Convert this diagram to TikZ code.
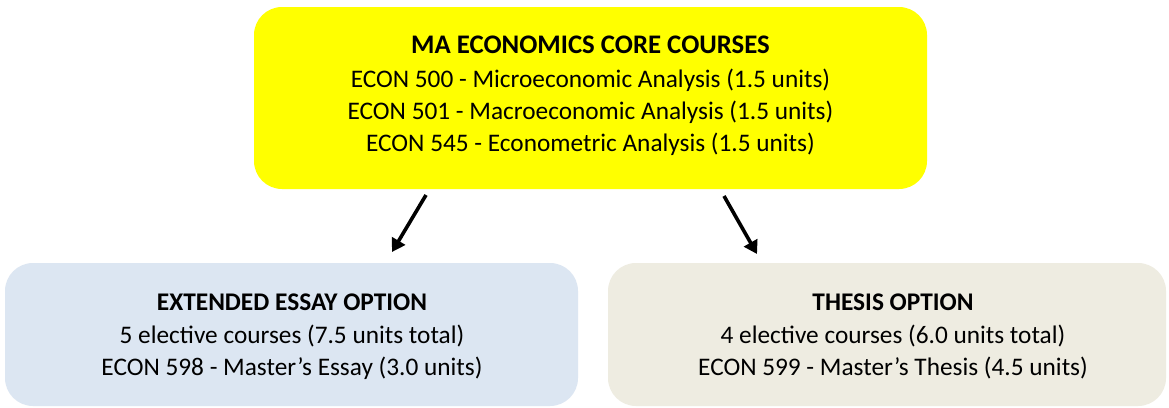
\documentclass[tikz,border=0pt]{standalone}
\usepackage{fontspec}
\setmainfont{Carlito}
\usetikzlibrary{arrows.meta}
\definecolor{coreyellow}{HTML}{FFFF00}
\definecolor{essayblue}{HTML}{DCE6F2}
\definecolor{thesisbeige}{HTML}{EEECE1}
\begin{document}
\begin{tikzpicture}[x=1pt,y=-1pt,
  box/.style={rounded corners=28pt, draw=none},
  txt/.style={anchor=base, font=\fontsize{25.3}{30}\selectfont, inner sep=0pt},
  toptitle/.style={anchor=base, font=\fontsize{26.8}{30}\selectfont\bfseries, inner sep=0pt},
  subtitle/.style={anchor=base, font=\fontsize{25.4}{30}\selectfont\bfseries, inner sep=0pt},
  arr/.style={line width=3.6pt, -{Triangle[width=15pt,length=13pt]}}]
\useasboundingbox (0,0) rectangle (1169,407);
\fill[white] (0,0) rectangle (1169,407);
\node[box, fill=coreyellow, minimum width=673pt, minimum height=182pt] (core) at (590.5,98) {};
\node[box, fill=essayblue, minimum width=573pt, minimum height=143pt] (essay) at (291.5,334.5) {};
\node[box, fill=thesisbeige, minimum width=558pt, minimum height=143pt] (thesis) at (887,334.5) {};
\node[toptitle] (coret) at (590.5,53) {MA ECONOMICS CORE COURSES};
\node[txt] (core1) at (590.5,87) {ECON 500 - Microeconomic Analysis (1.5 units)};
\node[txt] (core2) at (590.5,119) {ECON 501 - Macroeconomic Analysis (1.5 units)};
\node[txt] (core3) at (590.5,151) {ECON 545 - Econometric Analysis (1.5 units)};
\node[subtitle] (essayt) at (292,310) {EXTENDED ESSAY OPTION};
\node[txt] (essay1) at (292,343) {5 elective courses (7.5 units total)};
\node[txt] (essay2) at (292,375) {ECON 598 - Master’s Essay (3.0 units)};
\node[subtitle] (thesist) at (893,310) {THESIS OPTION};
\node[txt] (thesis1) at (893,343) {4 elective courses (6.0 units total)};
\node[txt] (thesis2) at (893,375) {ECON 599 - Master’s Thesis (4.5 units)};
\coordinate (a1s) at (426,195);
\coordinate (a1e) at (392,252);
\coordinate (a2s) at (724,196);
\coordinate (a2e) at (757,254);
\draw[arr] (a1s) -- (a1e);
\draw[arr] (a2s) -- (a2e);
\end{tikzpicture}
\end{document}
